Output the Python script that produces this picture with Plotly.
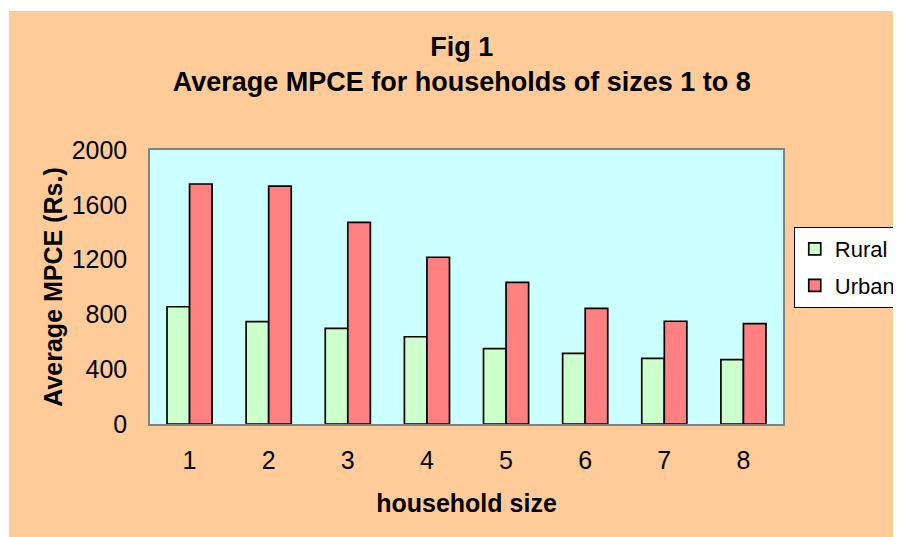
import plotly.graph_objects as go

# household size categories and average MPCE (Rs.)
sizes = ["1", "2", "3", "4", "5", "6", "7", "8"]
rural = [856, 747, 698, 637, 550, 516, 479, 470]
urban = [1752, 1737, 1472, 1217, 1034, 844, 750, 732]

y_ticks = [0, 400, 800, 1200, 1600, 2000]

FONT = "Liberation Sans, Arial, sans-serif"

fig = go.Figure()
fig.add_trace(go.Bar(x=sizes, y=rural, name="Rural", legendgroup="r",
                     marker=dict(color="#CCFFCC", line=dict(color="black", width=1.7))))
fig.add_trace(go.Bar(x=sizes, y=urban, name="Urban", legendgroup="u",
                     marker=dict(color="#FF8080", line=dict(color="black", width=1.7))))

fig.update_layout(
    width=901, height=537,
    margin=dict(l=142, r=126, t=142, b=121, autoexpand=False),
    paper_bgcolor="#FFCC99",
    plot_bgcolor="#CCFFFF",
    font=dict(family=FONT, color="black", size=25),
    barmode="group", bargap=0.43, bargroupgap=0,
    title=dict(text="<b>Fig 1<br>Average MPCE for households of sizes 1 to 8</b>",
               x=0.5036, xanchor="center", y=0.910, yanchor="middle",
               font=dict(size=27, family=FONT)),
    legend=dict(x=1.017, xanchor="left", y=0.719, yanchor="top",
                bgcolor="white", bordercolor="black", borderwidth=1,
                font=dict(size=22, family=FONT), tracegroupgap=5,
                traceorder="grouped"),
    showlegend=True,
    shapes=[
        # white strips around the peach chart frame
        dict(type="rect", xref="paper", yref="paper", x0=-1, x1=-0.2227, y0=-1, y1=3,
             fillcolor="white", line=dict(width=0), layer="below"),
        dict(type="rect", xref="paper", yref="paper", x0=-1, x1=3, y0=1.5073, y1=3,
             fillcolor="white", line=dict(width=0), layer="below"),
    ],
)

fig.update_xaxes(
    showline=True, linecolor="#808080", linewidth=1.5, mirror=True,
    showgrid=False, ticks="", ticklabelstandoff=13,
    title=dict(text="<b>household size</b>", standoff=22, font=dict(size=25)),
)
fig.update_yaxes(
    range=[0, 2000], tickvals=y_ticks,
    showline=True, linecolor="#808080", linewidth=1.5, mirror=True,
    showgrid=False, zeroline=False, ticks="", ticklabelstandoff=16,
    title=dict(text="<b>Average MPCE (Rs.)</b>", standoff=2, font=dict(size=25)),
)

fig.write_html("out.html")
